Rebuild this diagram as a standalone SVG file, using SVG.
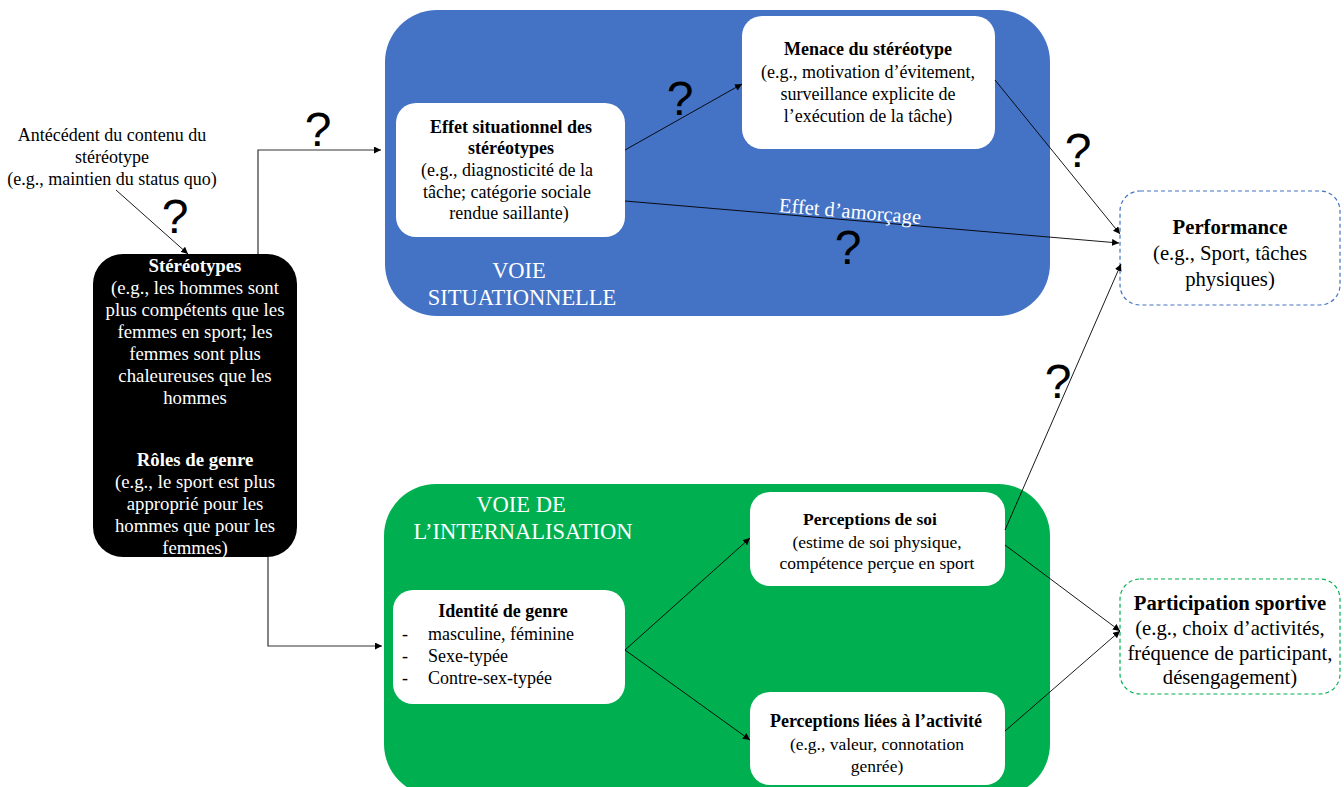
<svg xmlns="http://www.w3.org/2000/svg" width="1344" height="787" viewBox="0 0 1344 787">
<defs>
<marker id="ah" viewBox="0 0 10 10" refX="10" refY="5" markerWidth="7" markerHeight="7" orient="auto" markerUnits="userSpaceOnUse">
<path d="M0,0 L10,5 L0,10 z" fill="#000"/>
</marker>
<style>
text{font-family:"Liberation Serif","Times New Roman",serif;}
.t{font-size:18px;fill:#000;text-anchor:middle;}
.p{font-size:17.5px;fill:#000;text-anchor:middle;}
.tw{font-size:18.8px;fill:#fff;text-anchor:middle;}
.big{font-size:20.7px;fill:#000;text-anchor:middle;}
.b{font-weight:bold;}
.q{font-family:"Liberation Sans",Arial,sans-serif;font-size:48px;fill:#000;text-anchor:middle;}
.lane{font-size:22.5px;fill:#fff;text-anchor:middle;}
.box{fill:#fff;}
.c{fill:none;stroke:#000;stroke-width:0.9;}
</style>
</defs>
<rect width="1344" height="787" fill="#fff"/>

<g id="voie-situationnelle">
<rect x="385" y="10" width="665" height="306" rx="52" fill="#4472C4"/>
<text class="lane" x="519" y="278">VOIE</text>
<text class="lane" x="522" y="305">SITUATIONNELLE</text>
</g>

<g id="voie-internalisation">
<rect x="384" y="484" width="666" height="312" rx="52" fill="#00B050"/>
<text class="lane" x="521" y="512">VOIE DE</text>
<text class="lane" x="523" y="539">L’INTERNALISATION</text>
</g>

<g id="antecedent">
<text class="t" x="112" y="141">Antécédent du contenu du</text>
<text class="t" x="112" y="163">stéréotype</text>
<text class="t" x="112" y="185">(e.g., maintien du status quo)</text>
</g>

<g id="stereotypes">
<rect x="93" y="254" width="204" height="303" rx="30" fill="#000"/>
<text class="tw b" x="195" y="272">Stéréotypes</text>
<text class="tw" x="195" y="294">(e.g., les hommes sont</text>
<text class="tw" x="195" y="316">plus compétents que les</text>
<text class="tw" x="195" y="338">femmes en sport; les</text>
<text class="tw" x="195" y="360">femmes sont plus</text>
<text class="tw" x="195" y="382">chaleureuses que les</text>
<text class="tw" x="195" y="404">hommes</text>
<text class="tw b" x="195" y="466">Rôles de genre</text>
<text class="tw" x="195" y="488">(e.g., le sport est plus</text>
<text class="tw" x="195" y="510">approprié pour les</text>
<text class="tw" x="195" y="532">hommes que pour les</text>
<text class="tw" x="195" y="554">femmes)</text>
</g>

<g id="effet-situationnel">
<rect class="box" x="396" y="103" width="229" height="134" rx="20"/>
<text class="t b" x="511" y="133">Effet situationnel des</text>
<text class="t b" x="511" y="154">stéréotypes</text>
<text class="t" x="507" y="176">(e.g., diagnosticité de la</text>
<text class="t" x="507" y="198">tâche; catégorie sociale</text>
<text class="t" x="509" y="219">rendue saillante)</text>
</g>

<g id="menace">
<rect class="box" x="742" y="16" width="253" height="133" rx="20"/>
<text class="t b" x="868" y="55">Menace du stéréotype</text>
<text class="t" x="868" y="78">(e.g., motivation d’évitement,</text>
<text class="t" x="868" y="100">surveillance explicite de</text>
<text class="t" x="868" y="122">l’exécution de la tâche)</text>
</g>

<g id="performance">
<rect class="box" x="1120" y="191" width="220" height="114" rx="20" stroke="#4472C4" stroke-width="1.2" stroke-dasharray="4,3"/>
<text class="big b" x="1230" y="234">Performance</text>
<text class="big" x="1230" y="260">(e.g., Sport, tâches</text>
<text class="big" x="1230" y="286">physiques)</text>
</g>

<g id="identite">
<rect class="box" x="393" y="590" width="232" height="114" rx="20"/>
<text class="t b" x="503" y="617">Identité de genre</text>
<text class="t" x="405" y="640">-</text>
<text class="t" x="428" y="640" style="text-anchor:start">masculine, féminine</text>
<text class="t" x="405" y="662">-</text>
<text class="t" x="428" y="662" style="text-anchor:start">Sexe-typée</text>
<text class="t" x="405" y="684">-</text>
<text class="t" x="428" y="684" style="text-anchor:start">Contre-sex-typée</text>
</g>

<g id="perceptions-soi">
<rect class="box" x="750" y="492" width="255" height="94" rx="20"/>
<text class="p b" x="870" y="525">Perceptions de soi</text>
<text class="p" x="877" y="548">(estime de soi physique,</text>
<text class="p" x="877" y="569">compétence perçue en sport</text>
</g>

<g id="perceptions-activite">
<rect class="box" x="750" y="692" width="255" height="93" rx="20"/>
<text class="t b" x="876" y="727">Perceptions liées à l’activité</text>
<text class="p" x="877" y="750">(e.g., valeur, connotation</text>
<text class="p" x="877" y="772">genrée)</text>
</g>

<g id="participation">
<rect class="box" x="1120" y="579" width="220" height="115" rx="20" stroke="#00B050" stroke-width="1.2" stroke-dasharray="4,3"/>
<text class="big b" x="1230" y="610">Participation sportive</text>
<text class="big" x="1230" y="635">(e.g., choix d’activités,</text>
<text class="big" x="1230" y="660">fréquence de participant,</text>
<text class="big" x="1230" y="684">désengagement)</text>
</g>

<g id="connectors">
<path class="c" d="M116,190 L188,254" marker-end="url(#ah)"/>
<path d="M258,254 V150 H381" fill="none" stroke="#333" stroke-width="1.2" marker-end="url(#ah)"/>
<path d="M268,557 V646 H382" fill="none" stroke="#333" stroke-width="1.2" marker-end="url(#ah)"/>
<path class="c" d="M625,150 L742,84" marker-end="url(#ah)"/>
<path class="c" d="M625,201 L1119,243" marker-end="url(#ah)"/>
<path class="c" d="M995,80 L1120,234" marker-end="url(#ah)"/>
<path class="c" d="M1005,530 L1121,264" marker-end="url(#ah)"/>
<path class="c" d="M625,650 L750,538" marker-end="url(#ah)"/>
<path class="c" d="M625,650 L750,740" marker-end="url(#ah)"/>
<path class="c" d="M1005,545 L1120,631" marker-end="url(#ah)"/>
<path class="c" d="M1005,731 L1120,631" marker-end="url(#ah)"/>
<text x="850" y="218" transform="rotate(4.9 850 212)" style="font-size:20.5px;fill:#fff;text-anchor:middle">Effet d’amorçage</text>
</g>

<g id="question-marks">
<text class="q" x="318" y="146">?</text>
<text class="q" x="175" y="233">?</text>
<text class="q" x="680" y="115">?</text>
<text class="q" x="1078" y="167">?</text>
<text class="q" x="848" y="264">?</text>
<text class="q" x="1058" y="398">?</text>
</g>
</svg>
